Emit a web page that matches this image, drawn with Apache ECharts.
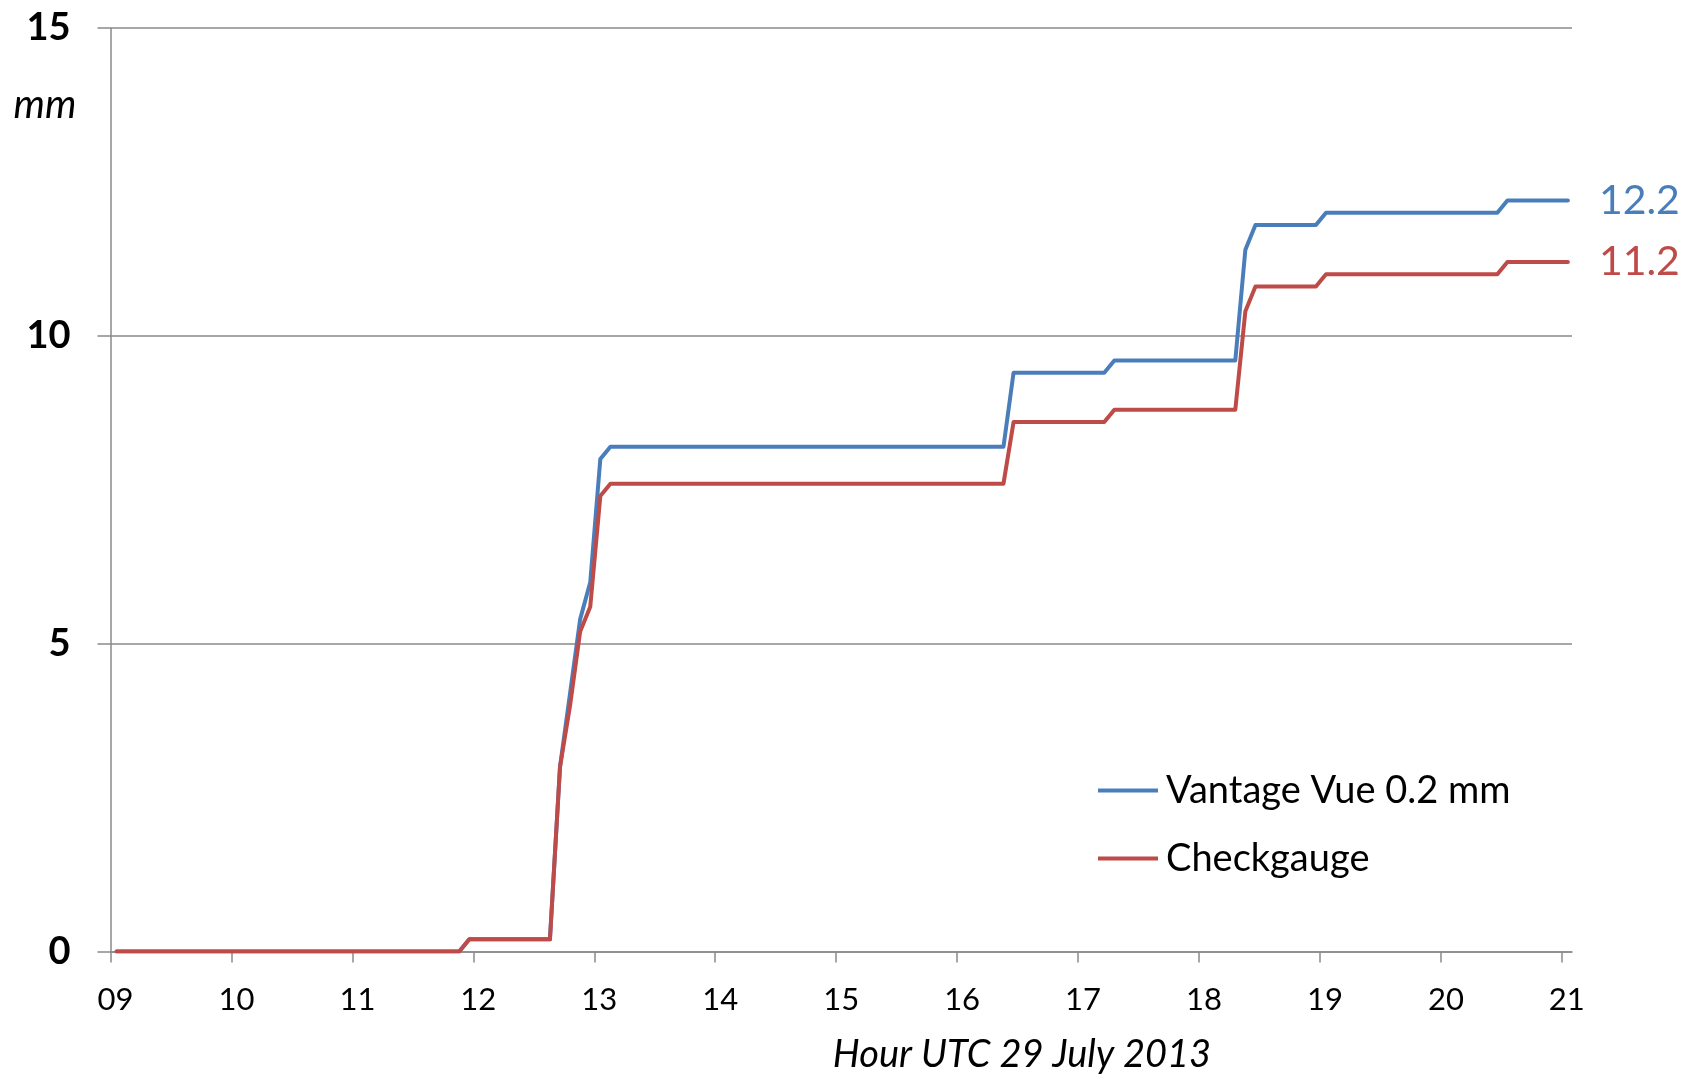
<!DOCTYPE html>
<html>
<head>
<meta charset="utf-8">
<script src="https://cdn.jsdelivr.net/npm/echarts@6/dist/echarts.min.js"></script>
<style>
html,body{margin:0;padding:0;background:#fff;}
#chart{width:1684px;height:1076px;}
</style>
</head>
<body>
<div id="chart"></div>
<script>
// ---- data ----
const times = ["09:03","11:53","11:58","12:38","12:43","12:48","12:53","12:58","13:03","13:08",
               "16:23","16:28","17:13","17:18","18:18","18:23","18:28","18:58","19:03","20:28","20:33","21:03"];
const vantageVue = [0,0,0.2,0.2,3.0,4.2,5.4,6.0,8.0,8.2,
                    8.2,9.4,9.4,9.6,9.6,11.4,11.8,11.8,12.0,12.0,12.2,12.2];
const checkgauge = [0,0,0.2,0.2,3.0,4.0,5.2,5.6,7.4,7.6,
                    7.6,8.6,8.6,8.8,8.8,10.4,10.8,10.8,11.0,11.0,11.2,11.2];
const hourTicks  = [9,10,11,12,13,14,15,16,17,18,19,20,21];
const hourLabels = ["09","10","11","12","13","14","15","16","17","18","19","20","21"];
const seriesNames = ["Vantage Vue 0.2 mm","Checkgauge"];
const xTitle = "Hour UTC 29 July 2013";
const yUnit = "mm";

function toHours(s){ const p = s.split(":"); return Number(p[0]) + Number(p[1]) / 60; }
function pairs(vals){ return times.map((t,i)=>[toHours(t), vals[i]]); }

const FONT = "Lato";
const BLUE = "#4A7EBB", RED = "#BE4B48", GRIDC = "#8A8A8A";

const chart = echarts.init(document.getElementById('chart'), null, {renderer:'canvas'});
chart.setOption({
  animation:false,
  backgroundColor:'#ffffff',
  grid:{left:110.5, right:112, top:28, bottom:124.4, outerBoundsMode:'none'},
  xAxis:{
    type:'value', min:9, max:21.084,
    axisLine:{show:true, lineStyle:{color:GRIDC, width:1.5}},
    axisTick:{show:true, customValues:hourTicks, length:11, lineStyle:{color:GRIDC, width:1.5}},
    axisLabel:{show:true, customValues:hourTicks, margin:33, padding:[0,0,0,10],
      formatter:function(v){ const i = hourTicks.indexOf(Math.round(v)); return i>=0 ? hourLabels[i] : ''; },
      fontFamily:FONT, fontSize:31, color:'#000'},
    splitLine:{show:false}
  },
  yAxis:{
    type:'value', min:0, max:15, interval:5,
    axisLine:{show:true, lineStyle:{color:GRIDC, width:1.5}},
    axisTick:{show:true, length:13, lineStyle:{color:GRIDC, width:1.5}},
    axisLabel:{margin:40, fontFamily:FONT, fontSize:38, fontWeight:'bold', color:'#000'},
    splitLine:{show:true, lineStyle:{color:GRIDC, width:1.5}}
  },
  legend:{
    orient:'vertical', left:1093, top:765,
    icon:'rect', itemWidth:60, itemHeight:4, itemGap:27,
    textStyle:{fontFamily:FONT, fontSize:38, color:'#000', lineHeight:41, padding:[0,0,0,3]},
    data:seriesNames
  },
  series:[
    {name:seriesNames[0], type:'line', data:pairs(vantageVue), showSymbol:false, symbol:'none',
     color:BLUE, lineStyle:{color:BLUE, width:4, cap:'round', join:'round'},
     endLabel:{show:true, distance:31, color:BLUE, fontFamily:FONT, fontSize:41,
       formatter:function(p){ return p.value[1].toFixed(1); }}},
    {name:seriesNames[1], type:'line', data:pairs(checkgauge), showSymbol:false, symbol:'none',
     color:RED, lineStyle:{color:RED, width:4, cap:'round', join:'round'},
     endLabel:{show:true, distance:31, color:RED, fontFamily:FONT, fontSize:41,
       formatter:function(p){ return p.value[1].toFixed(1); }}}
  ],
  graphic:[
    {type:'text', x:45, y:105, style:{text:yUnit, fontFamily:FONT, fontSize:40, fontStyle:'italic',
      fill:'#000', textAlign:'center', textVerticalAlign:'middle'}},
    {type:'text', x:1022, y:1055, style:{text:xTitle, fontFamily:FONT, fontSize:38, fontStyle:'italic',
      fill:'#000', textAlign:'center', textVerticalAlign:'middle'}}
  ]
});
</script>
</body>
</html>
